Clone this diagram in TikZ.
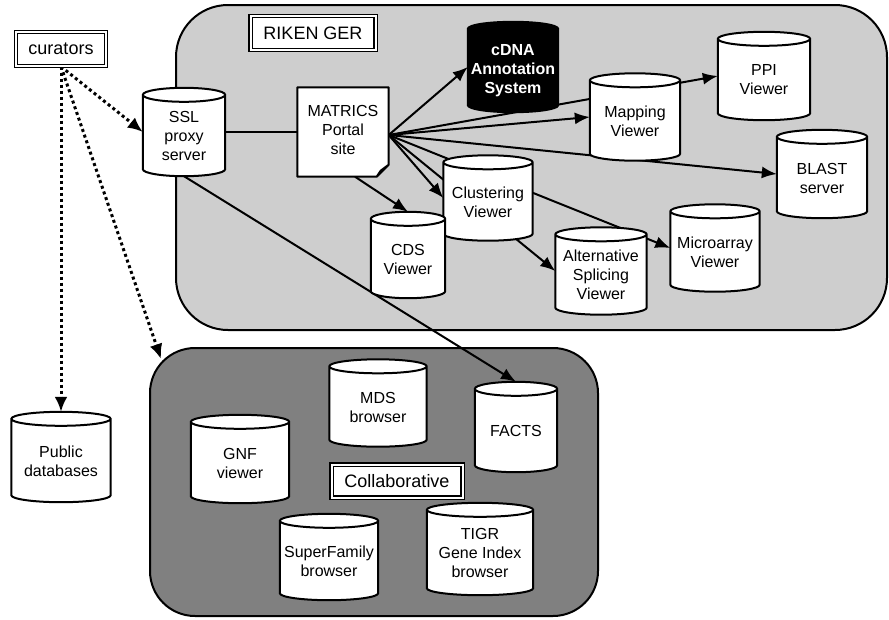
\documentclass[tikz,border=0pt]{standalone}
\usepackage{fontspec}
\setmainfont{Liberation Sans}
\usetikzlibrary{arrows.meta,calc}
\pgfdeclarelayer{bg}\pgfdeclarelayer{lines}\pgfdeclarelayer{cyl}
\pgfsetlayers{bg,lines,cyl,main}
\definecolor{rikengray}{RGB}{206,206,206}
\definecolor{collabgray}{RGB}{128,128,128}
\tikzset{
  cylline/.style={line width=2pt,draw=black},
  cyltext/.style={inner sep=0pt,align=center,font=\fontsize{16}{19}\selectfont},
  conn/.style={line width=2pt},
  arr/.style={line width=2pt,-{Latex[length=15pt,width=12pt]}},
  dotarr/.style={line width=3pt,dash pattern=on 3pt off 3pt,-{Latex[length=15pt,width=13pt]}},
  lblbox/.style={draw=black,line width=1.2pt,double=white,double distance=2pt,fill=white,inner sep=0pt,font=\fontsize{18}{21}\selectfont},
  panel/.style={draw=black,line width=2pt,inner sep=0pt},
}
\newcommand\drawcyl[2][white]{%
\begin{pgfonlayer}{cyl}
\draw[cylline,fill=#1] let \p1=(#2.north west), \p2=(#2.south east), \n1={(\x2-\x1)/2} in
 (\x1,\y1-7pt) -- (\x1,\y2+7pt) arc[start angle=180,end angle=360,x radius={\n1*1pt},y radius=7pt]
 -- (\x2,\y1-7pt) arc[start angle=0,end angle=180,x radius={\n1*1pt},y radius=7pt] -- cycle
 (\x1,\y1-7pt) arc[start angle=180,end angle=360,x radius={\n1*1pt},y radius=7pt];
\end{pgfonlayer}}
\newcommand\cylnode[6][white]{%
\node[inner sep=0pt,minimum width=#4 pt,minimum height=#5 pt,
  label={[cyltext,yshift=-4pt]center:{#6}}] (#2) at (#3) {};
\drawcyl[#1]{#2}}
\begin{document}
\begin{tikzpicture}[x=1pt,y=-1pt]
\useasboundingbox (0,0) rectangle (889,619);
% panels
\begin{pgfonlayer}{bg}
\fill[white] (0,0) rectangle (889,619);
\node[panel,fill=rikengray,rounded corners=52pt,minimum width=711pt,minimum height=325pt] (riken) at (531.5,167.5) {};
\node[panel,fill=collabgray,rounded corners=45pt,minimum width=448pt,minimum height=268pt] (collab) at (374,482) {};
\end{pgfonlayer}
% labels
\node[lblbox,minimum width=90pt,minimum height=34pt] (cur) at (61,49) {curators};
\node[lblbox,minimum width=125pt,minimum height=34pt] (rikenlbl) at (313,33) {RIKEN GER};
\node[lblbox,minimum width=131pt,minimum height=33pt] (collablbl) at (397,481) {Collaborative};
% cylinders
\cylnode{ssl}{184,132}{82}{88}{SSL\\proxy\\server}
\cylnode[black]{cdna}{513,67}{90}{90}{\color{white}\bfseries cDNA\\\color{white}\bfseries Annotation\\\color{white}\bfseries System}
\cylnode{map}{635,117}{90}{87}{Mapping\\Viewer}
\cylnode{ppi}{764,76}{92}{88}{PPI\\Viewer}
\cylnode{blast}{822,174}{90}{88}{BLAST\\server}
\cylnode{clus}{488,198}{89}{85}{Clustering\\Viewer}
\cylnode{cds}{408,255}{74}{86}{CDS\\Viewer}
\cylnode{alt}{601,271}{91}{87}{Alternative\\Splicing\\Viewer}
\cylnode{micro}{715,248}{89}{87}{Microarray\\Viewer}
\cylnode{mds}{378,403}{97}{87}{MDS\\browser}
\cylnode{facts}{516,427}{82}{90}{FACTS}
\cylnode{gnf}{240,459}{98}{88}{GNF\\viewer}
\cylnode{sfam}{329,557}{98}{86}{SuperFamily\\browser}
\cylnode{tigr}{480,549}{106}{92}{TIGR\\Gene Index\\browser}
\cylnode{pub}{61,457}{99}{90}{Public\\databases}
% MATRICS document
\node[inner sep=0pt,minimum width=91pt,minimum height=89pt,
  label={[cyltext,yshift=2pt]center:{MATRICS\\Portal\\site}}] (m) at (343,132) {};
\begin{pgfonlayer}{cyl}
\draw[cylline,fill=white,line join=round] let \p1=(m.north west),\p2=(m.south east) in
 (\x1,\y1) -- (\x2,\y1) -- (\x2,\y2+12pt) -- (\x2-12pt,\y2) -- (\x1,\y2) -- cycle
 (\x2-12pt,\y2) -- (\x2-8pt,\y2+6pt) -- (\x2,\y2+12pt);
\end{pgfonlayer}
% connectors
\begin{pgfonlayer}{lines}
\draw[conn] (ssl.east) -- (m.west);
\draw[arr] ([yshift=-3pt]m.east) -- (cdna.west);
\draw[arr] ([yshift=-3pt]m.east) -- (ppi.west);
\draw[arr] ([yshift=-3pt]m.east) -- (map.west);
\draw[arr] ([yshift=-3pt]m.east) -- (blast.west);
\draw[arr] ([yshift=-3pt]m.east) -- (clus.west);
\draw[arr] ([yshift=-3pt]m.east) -- (micro.west);
\draw[arr] ([yshift=-3pt]m.east) -- (alt.west);
\draw[arr] ([xshift=12pt]m.south) -- (cds.north);
\draw[conn,-{Latex[length=15pt,width=12pt]}] (ssl.south) -- (facts.north);
\draw[dotarr] (cur.south) -- (ssl.west);
\draw[dotarr] (cur.south) -- (pub.north);
\draw[dotarr] (cur.south) -- ([shift={(12,12)}]collab.north west);
\end{pgfonlayer}
\end{tikzpicture}
\end{document}
